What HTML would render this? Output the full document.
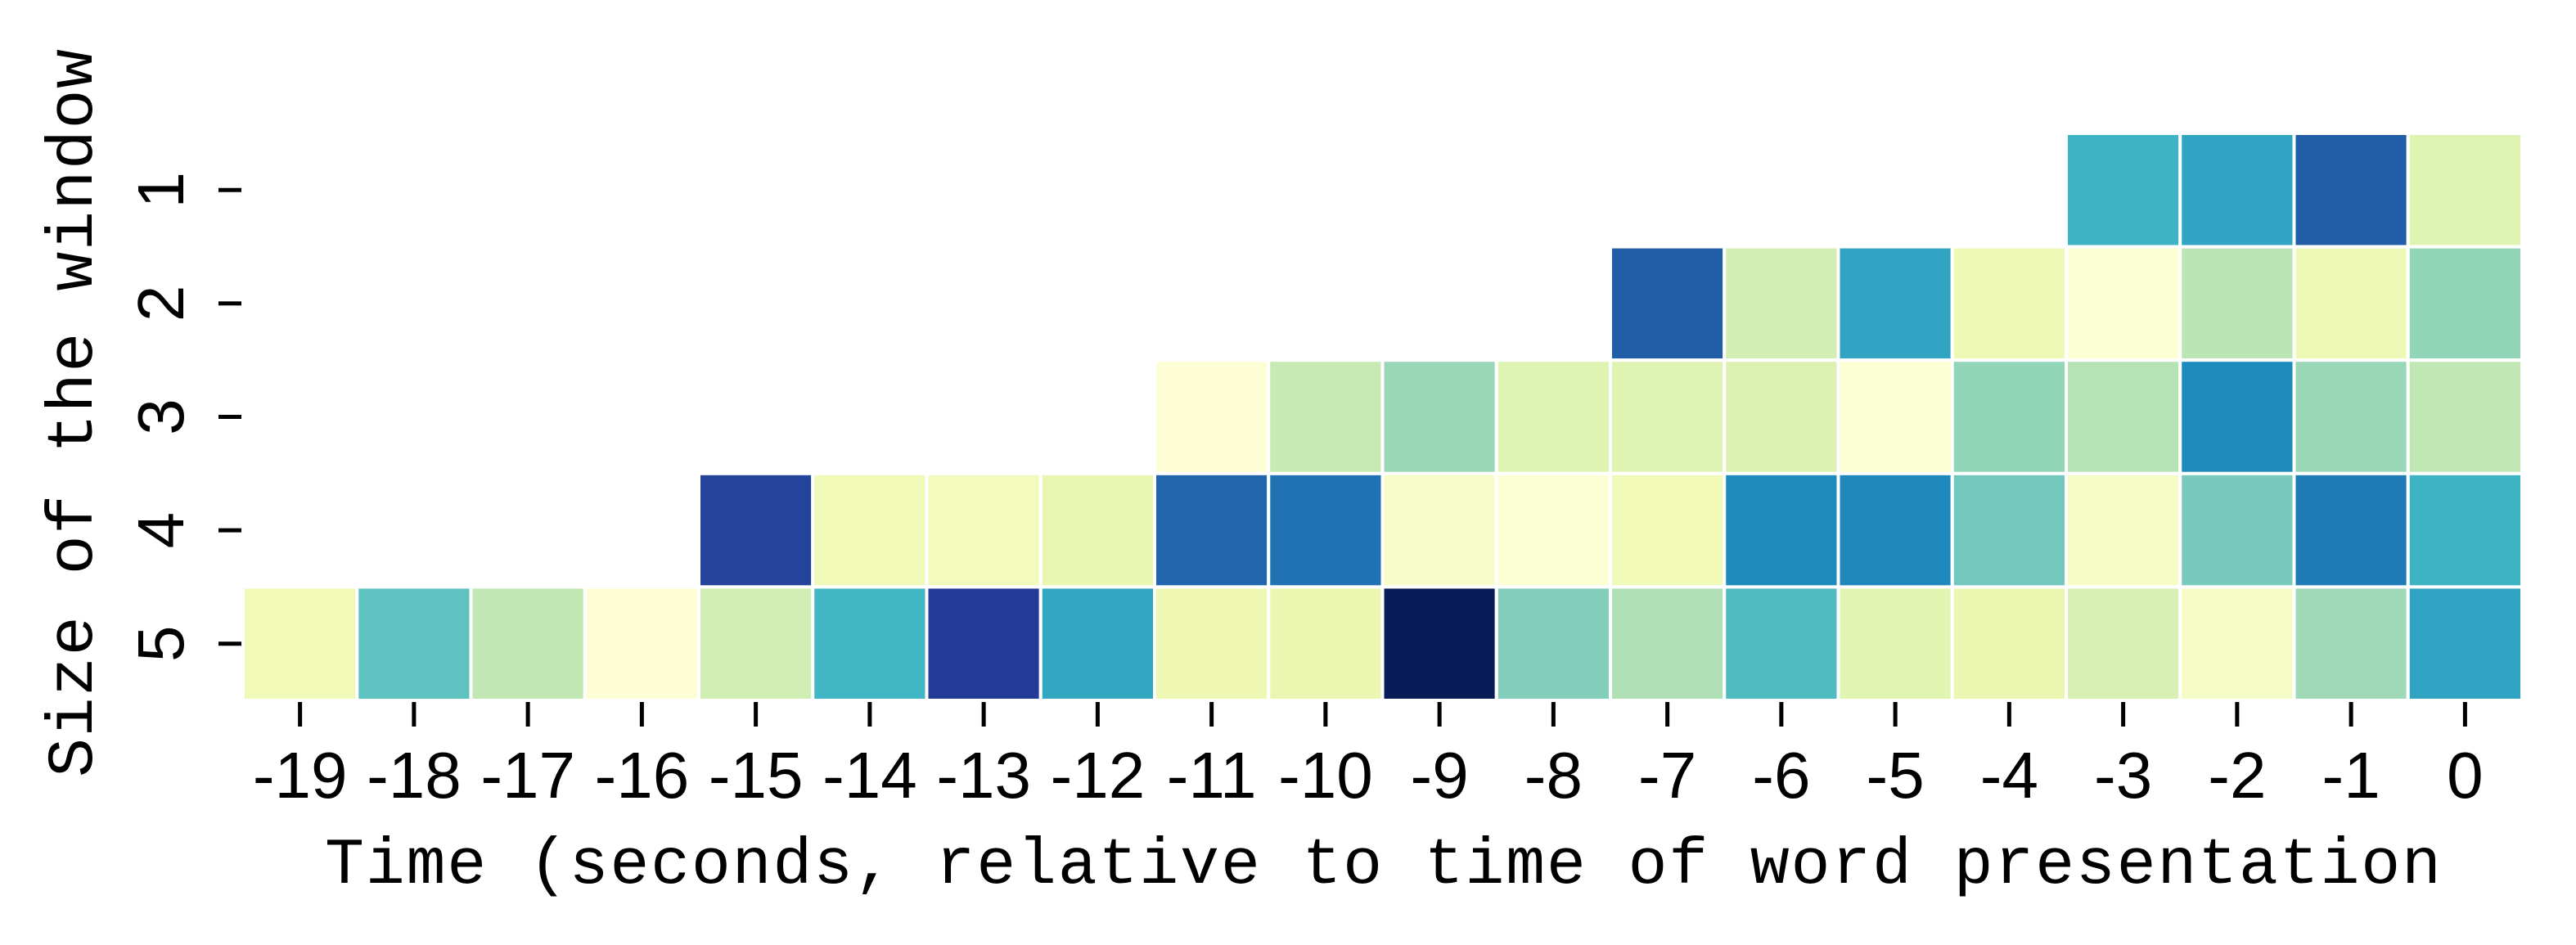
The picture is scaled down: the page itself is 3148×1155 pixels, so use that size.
<!DOCTYPE html>
<html><head><meta charset="utf-8"><style>
html,body{margin:0;padding:0;background:#fff;}
svg{display:block;}
.tick{font-family:"Liberation Sans",Arial,sans-serif;font-size:80px;}
.title{font-family:"Liberation Mono","Courier New",monospace;font-size:80px;}
</style></head><body>
<svg id="chart" width="3148" height="1155" xmlns="http://www.w3.org/2000/svg">
<g id="cells"></g>
<g id="axes"></g>
<text class="title" x="1690" y="1079" text-anchor="middle" textLength="2586" lengthAdjust="spacing">Time (seconds, relative to time of word presentation</text>
<text class="title" transform="translate(112,505) rotate(-90)" text-anchor="middle" textLength="890" lengthAdjust="spacing">Size of the window</text>
</svg>
<script>
const xLabels = ["-19","-18","-17","-16","-15","-14","-13","-12","-11","-10","-9","-8","-7","-6","-5","-4","-3","-2","-1","0"];
const yLabels = ["1","2","3","4","5"];
const row1 = [null,null,null,null,null,null,null,null,null,null,null,null,null,null,null,null,0.51,0.56,0.75,0.17];
const row2 = [null,null,null,null,null,null,null,null,null,null,null,null,0.75,0.21,0.56,0.11,0.02,0.27,0.11,0.34];
const row3 = [null,null,null,null,null,null,null,null,0.01,0.25,0.33,0.17,0.17,0.18,0.02,0.34,0.28,0.64,0.33,0.26];
const row4 = [null,null,null,null,0.83,0.10,0.09,0.14,0.73,0.70,0.05,0.02,0.10,0.64,0.65,0.40,0.06,0.39,0.68,0.51];
const row5 = [0.10,0.44,0.26,0.01,0.22,0.50,0.85,0.55,0.12,0.13,1.00,0.37,0.29,0.47,0.16,0.13,0.19,0.06,0.32,0.56];
const rows = [row1,row2,row3,row4,row5];

const X0=297, X1=3082, Y0=163, Y1=856;
const cw=(X1-X0)/xLabels.length, ch=(Y1-Y0)/yLabels.length;
const xPos=i=>X0+i*cw, yPos=j=>Y0+j*ch;
const stops=["#ffffd9","#edf8b1","#c7e9b4","#7fcdbb","#41b6c4","#1d91c0","#225ea8","#253494","#081d58"];
function hex(h){return [1,3,5].map(k=>parseInt(h.substr(k,2),16));}
function color(v){v=Math.max(0,Math.min(1,v));const t=v*(stops.length-1);const i=Math.min(stops.length-2,Math.floor(t));const f=t-i;const a=hex(stops[i]),b=hex(stops[i+1]);return "rgb("+a.map((c,k)=>Math.round(c+(b[k]-c)*f)).join(",")+")";}
const NS="http://www.w3.org/2000/svg";
const cells=document.getElementById('cells'), axes=document.getElementById('axes');
rows.forEach((r,j)=>r.forEach((v,i)=>{
  if(v===null) return;
  const el=document.createElementNS(NS,'rect');
  
  
  el.setAttribute('x',xPos(i));el.setAttribute('y',yPos(j));
  el.setAttribute('width',cw);el.setAttribute('height',ch);
  el.setAttribute('fill',color(v));el.setAttribute('stroke','#fff');el.setAttribute('stroke-width','4');
  cells.appendChild(el);
}));
xLabels.forEach((l,i)=>{
  const cx=xPos(i)+cw/2;
  const t=document.createElementNS(NS,'line');
  
  
  t.setAttribute('x1',cx);t.setAttribute('x2',cx);t.setAttribute('y1',858);t.setAttribute('y2',888);
  t.setAttribute('stroke','#000');t.setAttribute('stroke-width','5');
  axes.appendChild(t);
  const tx=document.createElementNS(NS,'text');
  
  
  tx.setAttribute('class','tick');
  tx.setAttribute('x',cx);tx.setAttribute('y',975);tx.setAttribute('text-anchor','middle');
  tx.textContent=l;axes.appendChild(tx);
});
yLabels.forEach((l,j)=>{
  const cy=yPos(j)+ch/2;
  const t=document.createElementNS(NS,'line');
  
  
  t.setAttribute('x1',267);t.setAttribute('x2',295);t.setAttribute('y1',cy);t.setAttribute('y2',cy);
  t.setAttribute('stroke','#000');t.setAttribute('stroke-width','5');
  axes.appendChild(t);
  const tx=document.createElementNS(NS,'text');
  
  
  tx.setAttribute('class','tick');
  tx.setAttribute('transform','translate(224,'+cy+') rotate(-90)');tx.setAttribute('text-anchor','middle');
  tx.textContent=l;axes.appendChild(tx);
});
</script>
</body></html>
